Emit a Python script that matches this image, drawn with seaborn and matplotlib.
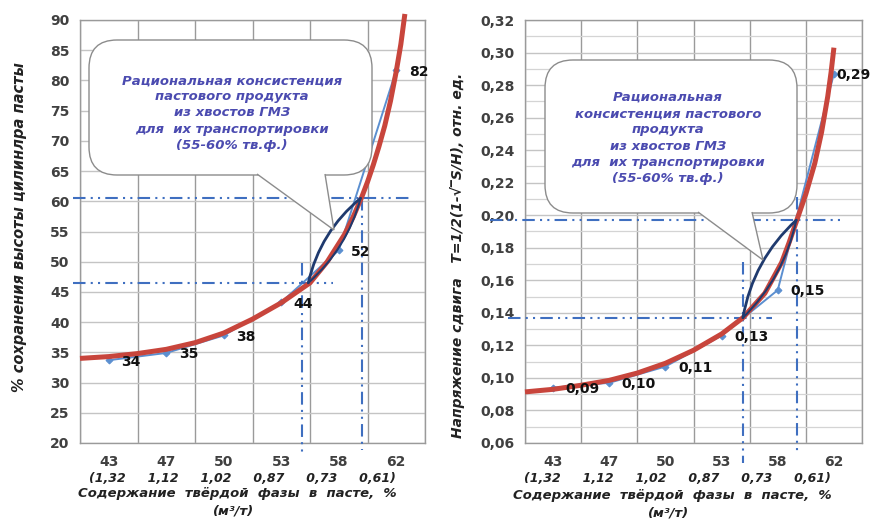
import matplotlib
matplotlib.use("Agg")
import matplotlib.pyplot as plt
import numpy as np
import pandas as pd
import seaborn as sns
from matplotlib.patches import FancyBboxPatch, Polygon
from matplotlib.ticker import FuncFormatter, MultipleLocator

# categories on the x axis (solid phase content, %)
solids = ["43", "47", "50", "53", "58", "62"]
volume_labels = ["(1,32", "1,12", "1,02", "0,87", "0,73", "0,61)"]

# left chart: % of paste cylinder height retained
height_values = [33.7, 34.9, 37.8, 43.3, 51.9, 81.7]
height_labels = ["34", "35", "38", "44", "52", "82"]
height_trend_x = [0.5, 1.0, 1.5, 2.0, 2.5, 3.0, 3.5, 4.0, 4.5, 4.8, 5.1, 5.25, 5.4,
                  5.5, 5.6, 5.7, 5.8, 5.9, 6.0, 6.08, 6.15]
height_trend_y = [34.0, 34.3, 34.8, 35.5, 36.6, 38.2, 40.5, 43.2, 46.5, 50.0, 54.5, 57.4, 60.7,
                  63.2, 66.0, 69.1, 72.5, 76.6, 81.5, 86.0, 91.0]
height_guide_x = [4.36, 5.40]
height_guide_y = [46.5, 60.5]
height_lens_x = [4.47, 5.38]

# right chart: shear stress
shear_values = [0.094, 0.097, 0.107, 0.126, 0.154, 0.287]
shear_labels = ["0,09", "0,10", "0,11", "0,13", "0,15", "0,29"]
shear_trend_x = [0.5, 1.0, 1.5, 2.0, 2.5, 3.0, 3.5, 4.0, 4.38, 4.77, 5.07, 5.2, 5.34,
                 5.5, 5.66, 5.78, 5.89, 5.95, 6.0]
shear_trend_y = [0.0914, 0.093, 0.0955, 0.0985, 0.103, 0.109, 0.117, 0.127, 0.137, 0.152,
                 0.171, 0.183, 0.197, 0.213, 0.232, 0.251, 0.273, 0.288, 0.303]
shear_guide_x = [4.38, 5.34]
shear_guide_y = [0.137, 0.197]
shear_lens_x = [4.38, 5.33]

W, H = 871, 520
BLUE = "#5b8fd0"
RED = "#c8453c"
NAVY = "#1f3a6e"
GUIDE = "#3f6fc0"
TEXT = "#404040"
CALLOUT = "#4b4bb0"

sns.set_style("white")
plt.rcParams["font.family"] = ["DejaVu Sans"]


def fx(px):
    return px / W


def fy(py):
    return 1 - py / H


def setup_axes(ax, ylim, major, minor=None):
    ax.set_xlim(0.5, 6.5)
    ax.set_ylim(ylim)
    ax.set_xticks(range(1, 7))
    ax.set_xticks(np.arange(0.5, 7, 1), minor=True)
    ax.set_xticklabels(solids, fontsize=10, fontweight="bold", color=TEXT)
    ax.yaxis.set_major_locator(MultipleLocator(major))
    if minor:
        ax.yaxis.set_minor_locator(MultipleLocator(minor))
        ax.grid(which="minor", axis="y", color="#d4d4d4", lw=0.9)
    ax.grid(which="major", axis="y", color="#c4c4c4", lw=1)
    ax.grid(which="minor", axis="x", color="#9a9a9a", lw=1)
    ax.tick_params(axis="x", which="both", length=0, pad=9)
    ax.tick_params(axis="y", which="major", length=4, color="#9a9a9a", labelsize=10, labelcolor=TEXT)
    ax.tick_params(axis="y", which="minor", length=0)
    for s in ax.spines.values():
        s.set_color("#9a9a9a")
        s.set_linewidth(1)


def draw_series(ax, values, labels, trend_x, trend_y, last_dx=9):
    df = pd.DataFrame({"pos": np.arange(1, 7), "value": values})
    sns.lineplot(data=df, x="pos", y="value", ax=ax, color=BLUE, lw=1.4,
                 marker="D", markersize=3.5, markeredgecolor=BLUE, zorder=3)
    trend = pd.DataFrame({"x": trend_x, "y": trend_y})
    sns.lineplot(data=trend, x="x", y="y", ax=ax, color=RED, lw=3.6,
                 zorder=4, clip_on=False, solid_capstyle="butt", solid_joinstyle="round")
    for i, (v, t) in enumerate(zip(values, labels)):
        dx = last_dx if i == 5 else 9
        ax.annotate(t, (i + 1, v), xytext=(dx, -1), textcoords="offset points",
                    fontsize=10, fontweight="bold", color="#111111", va="center",
                    annotation_clip=False, zorder=6)
    ax.set_xlabel("")


def draw_zone(ax, guide_x, guide_y, lens_x, h_ext, v_ext):
    style = dict(color=GUIDE, lw=1.5, dashes=(6, 2.5, 1, 2.5, 1, 2.5), clip_on=False, zorder=3)
    # horizontal guides
    ax.plot(h_ext[0], [guide_y[0]] * 2, **style)
    ax.plot(h_ext[1], [guide_y[1]] * 2, **style)
    # vertical guides
    ax.plot([guide_x[0]] * 2, v_ext[0], **style)
    ax.plot([guide_x[1]] * 2, v_ext[1], **style)
    # lens between the two bounds
    a = (lens_x[0], guide_y[0])
    b = (lens_x[1], guide_y[1])
    ax.annotate("", xy=b, xytext=a, arrowprops=dict(
        arrowstyle="-", color=NAVY, lw=2, shrinkA=0, shrinkB=0,
        connectionstyle="arc3,rad=-0.17"), zorder=5)
    ax.annotate("", xy=b, xytext=a, arrowprops=dict(
        arrowstyle="-", color=NAVY, lw=1.5, shrinkA=0, shrinkB=0,
        connectionstyle="arc3,rad=0.15"), zorder=5)


def draw_callout(fig, box, base, tip, text, center):
    x0, y0, x1, y1 = box
    r = 28
    patch = FancyBboxPatch((fx(x0), fy(y1)), fx(x1 - x0), (y1 - y0) / H,
                           boxstyle=f"round,pad=0,rounding_size={r / W}",
                           mutation_aspect=W / H, transform=fig.transFigure,
                           facecolor="white", edgecolor="#8c8c8c", lw=1, zorder=5)
    fig.add_artist(patch)
    pointer = Polygon([(fx(base[0]), fy(y1 - 1)), (fx(tip[0]), fy(tip[1])),
                       (fx(base[1]), fy(y1 - 1))], closed=False,
                      transform=fig.transFigure, facecolor="white",
                      edgecolor="#8c8c8c", lw=1, zorder=6)
    fig.add_artist(pointer)
    fig.text(fx(center[0]), fy(center[1]), text, ha="center", va="center",
             fontsize=9.5, fontweight="bold", style="italic", color=CALLOUT,
             linespacing=1.32, zorder=7)


fig = plt.figure(figsize=(W / 100, H / 100), dpi=100)
ax1 = fig.add_axes([fx(80), fy(443), 345 / W, 423 / H])
ax2 = fig.add_axes([fx(525), fy(443), 337 / W, 423 / H])

# left chart
setup_axes(ax1, (20, 90), 5)
draw_series(ax1, height_values, height_labels, height_trend_x, height_trend_y)
draw_zone(ax1, height_guide_x, height_guide_y, height_lens_x,
          h_ext=[[0.37, 4.9], [0.37, 6.24]], v_ext=[[49.8, 18.3], [60.5, 18.8]])
ax1.set_ylabel("% сохранения высоты цилинлра пасты", fontsize=10.5,
               fontweight="bold", style="italic", color="#222222")
ax1.yaxis.set_label_coords(-0.155, 0.51)

# right chart
setup_axes(ax2, (0.06, 0.32), 0.02, 0.01)
ax2.yaxis.set_major_formatter(FuncFormatter(lambda v, _: f"{v:.2f}".replace(".", ",")))
draw_series(ax2, shear_values, shear_labels, shear_trend_x, shear_trend_y, last_dx=2)
draw_zone(ax2, shear_guide_x, shear_guide_y, shear_lens_x,
          h_ext=[[0.2, 4.9], [-0.12, 6.1]], v_ext=[[0.171, 0.048], [0.211, 0.0526]])
ax2.set_ylabel("Напряжение сдвига   Т=1/2(1-√‾S/H), отн. ед.", fontsize=10,
               fontweight="bold", style="italic", color="#222222")
ax2.yaxis.set_label_coords(-0.178, 0.444)

for ax in (ax1, ax2):
    for lbl in ax.get_yticklabels():
        lbl.set_fontweight("bold")

# x axis captions under both charts
row2 = "     ".join(volume_labels)
for cx, dy in [(242, 0), (677, 1)]:
    fig.text(fx(cx), fy(478 + dy), row2, ha="center", va="center", fontsize=9,
             fontweight="bold", style="italic", color="#222222")
    fig.text(fx(cx - 5), fy(494 + dy * 2), "Содержание  твёрдой  фазы  в  пасте,  %",
             ha="center", va="center", fontsize=9.5, fontweight="bold",
             style="italic", color="#222222")
    fig.text(fx(cx - 8), fy(511 + dy * 2), "(м³/т)", ha="center", va="center",
             fontsize=9.5, fontweight="bold", style="italic", color="#222222")

# callouts
draw_callout(fig, (89, 40, 372, 175), (257, 325), (334, 230),
             "Рациональная консистенция\nпастового продукта\nиз хвостов ГМЗ\n"
             "для  их транспортировки\n(55-60% тв.ф.)", (232, 113))
draw_callout(fig, (545, 60, 797, 213), (698, 752), (763, 260),
             "Рациональная\nконсистенция пастового\nпродукта\nиз хвостов ГМЗ\n"
             "для  их транспортировки\n(55-60% тв.ф.)", (668, 138))

fig.savefig("out.png", dpi=100)
